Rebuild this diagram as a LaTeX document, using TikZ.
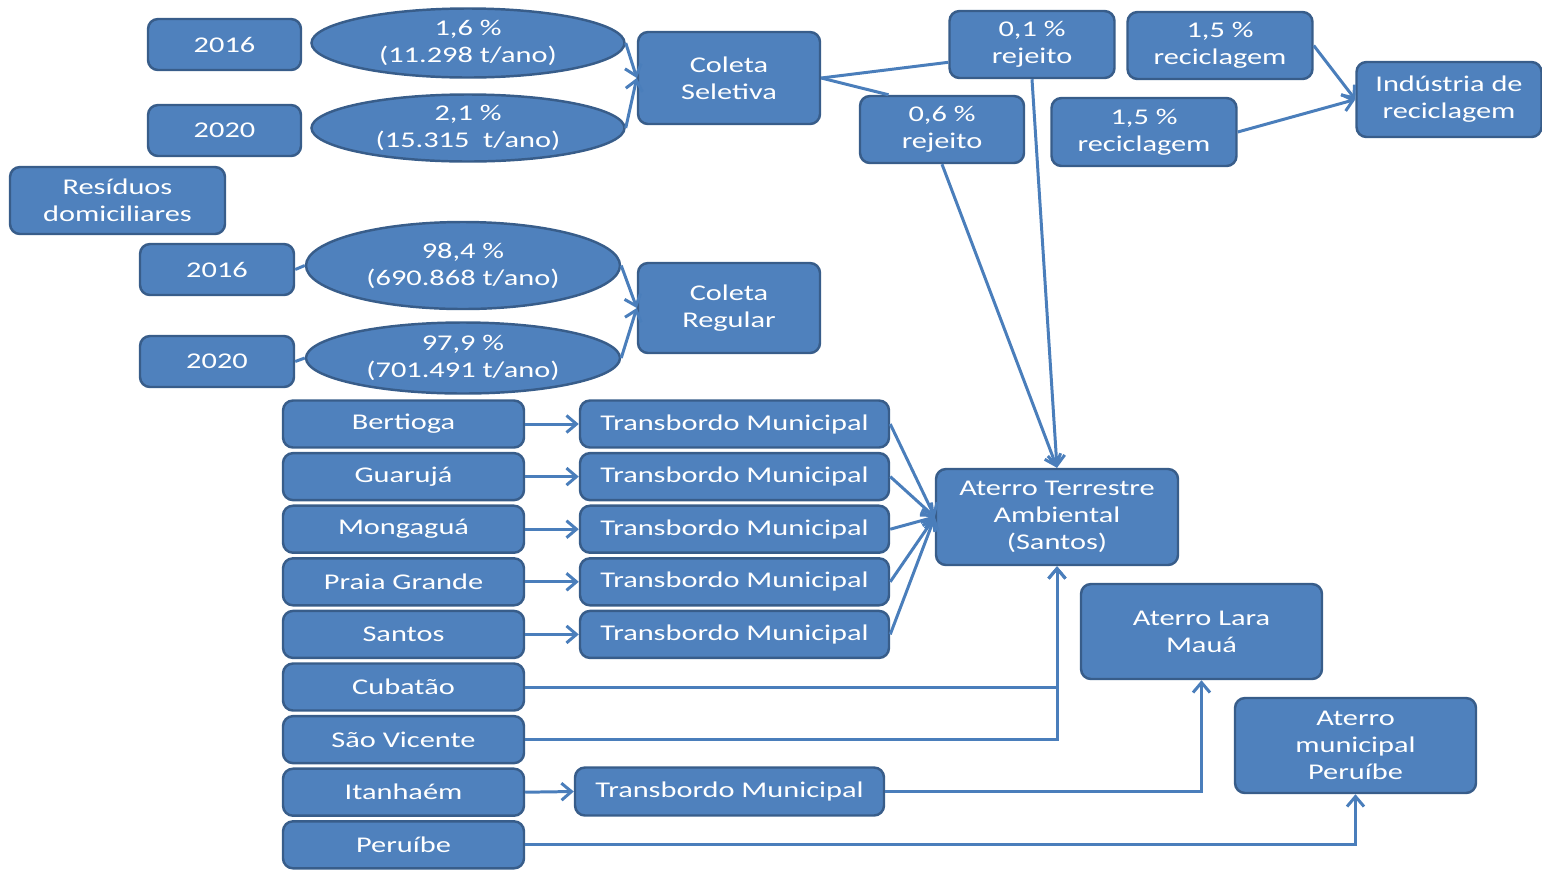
\documentclass[tikz,border=0pt]{standalone}
\usepackage{fontspec}
\setmainfont{Carlito}[FakeStretch=1.35]
\usetikzlibrary{shapes.geometric,arrows.meta}
\definecolor{caixa}{HTML}{4F81BD}
\definecolor{borda}{HTML}{385D8A}
\definecolor{traco}{HTML}{4A7EBB}
\begin{document}
\begin{tikzpicture}[x=0.02cm,y=-0.02cm,
    blk/.style 2 args={draw=borda,line width=1.4pt,fill=caixa,rounded corners=0.2cm,
      text=white,align=center,inner sep=0pt,
      minimum width=#1*0.02cm,minimum height=#2*0.02cm,
      font=\fontsize{12.8}{15.4}\selectfont},
    elp/.style 2 args={blk={#1}{#2},sharp corners,ellipse},
    lig/.style={draw=traco,line width=1.7pt},
    flecha/.style={lig,-{Straight Barb[length=0.2cm,width=0.34cm]}}]
          \useasboundingbox (0,0) rectangle (1542,870);

          \node[blk={153}{51}] (y16s) at (224.5,44.5) {2016};
          \node[blk={153}{51}] (y20s) at (224.5,130.5) {2020};
          \node[elp={313}{69}] (e16s) at (468,43) {1,6 \%\\(11.298 t/ano)};
          \node[elp={313}{67}] (e20s) at (468,128) {2,1 \%\\(15.315 \ t/ano)};
          \node[blk={182}{92}] (colsel) at (729,78) {Coleta\\Seletiva};
          \node[blk={165}{67}] (rej01) at (1032,44.5) {0,1 \%\\rejeito};
          \node[blk={164}{67}] (rej06) at (942,129.5) {0,6 \%\\rejeito};
          \node[blk={185}{67}] (rec15a) at (1220,45.5) {1,5 \%\\reciclagem};
          \node[blk={185}{68}] (rec15b) at (1144,132) {1,5 \%\\reciclagem};
          \node[blk={185}{75}] (ind) at (1449,99.5) {Indústria de\\reciclagem};
          \node[blk={215}{67}] (resid) at (117.5,200.5) {Resíduos\\domiciliares};
          \node[blk={154}{51}] (y16r) at (217,269.5) {2016};
          \node[blk={154}{51}] (y20r) at (217,361.5) {2020};
          \node[elp={314}{87}] (e984) at (463,265.5) {98,4 \%\\(690.868 t/ano)};
          \node[elp={314}{71}] (e979) at (463,358) {97,9 \%\\(701.491 t/ano)};
          \node[blk={182}{90}] (colreg) at (729,308) {Coleta\\Regular};

          \node[blk={241}{47}] (bert) at (403.5,424) {Bertioga};
          \node[blk={241}{47}] (guar) at (403.5,476.6) {Guarujá};
          \node[blk={241}{47}] (mong) at (403.5,529.2) {Mongaguá};
          \node[blk={241}{47}] (prai) at (403.5,581.8) {Praia Grande};
          \node[blk={241}{47}] (sant) at (403.5,634.4) {Santos};
          \node[blk={241}{47}] (cuba) at (403.5,687) {Cubatão};
          \node[blk={241}{47}] (svic) at (403.5,739.6) {São Vicente};
          \node[blk={241}{47}] (itan) at (403.5,792.2) {Itanhaém};
          \node[blk={241}{47}] (peru) at (403.5,844.8) {Peruíbe};
          \node[blk={309}{47}] (tb1) at (734.5,424) {Transbordo Municipal};
          \node[blk={309}{47}] (tb2) at (734.5,476.6) {Transbordo Municipal};
          \node[blk={309}{47}] (tb3) at (734.5,529.2) {Transbordo Municipal};
          \node[blk={309}{47}] (tb4) at (734.5,581.8) {Transbordo Municipal};
          \node[blk={309}{47}] (tb5) at (734.5,634.4) {Transbordo Municipal};
          \node[blk={309}{48}] (tb6) at (729.5,791.5) {Transbordo Municipal};
          \node[blk={242}{96}] (ater) at (1057,517) {Aterro Terrestre\\Ambiental\\(Santos)};
          \node[blk={241}{95}] (lara) at (1201.5,631.5) {Aterro Lara\\Mauá};
          \node[blk={241}{95}] (atpe) at (1355.5,745.5) {Aterro\\municipal\\Peruíbe};

          \draw[flecha] (e16s.east) -- (colsel.west);
          \draw[flecha] (e20s.east) -- (colsel.west);
          \draw[lig] (y16r.east) -- (e984.west);
          \draw[lig] (y20r.east) -- (e979.west);
          \draw[flecha] (e984.east) -- (colreg.west);
          \draw[flecha] (e979.east) -- (colreg.west);
          \draw[lig] (colsel.east) -- (rej01.192);
          \draw[lig] (colsel.east) -- (rej06.147);
          \draw[flecha] (rej01.south) -- (ater.north);
          \draw[flecha] (rej06.south) -- (ater.north);
          \draw[flecha] (rec15a.east) -- (ind.west);
          \draw[flecha] (rec15b.east) -- (ind.west);

          \draw[flecha] (bert.east) -- (tb1.west);
          \draw[flecha] (guar.east) -- (tb2.west);
          \draw[flecha] (mong.east) -- (tb3.west);
          \draw[flecha] (prai.east) -- (tb4.west);
          \draw[flecha] (sant.east) -- (tb5.west);
          \draw[flecha] (itan.east) -- (tb6.west);
          \draw[flecha] (tb1.east) -- (ater.west);
          \draw[flecha] (tb2.east) -- (ater.west);
          \draw[flecha] (tb3.east) -- (ater.west);
          \draw[flecha] (tb4.east) -- (ater.west);
          \draw[flecha] (tb5.east) -- (ater.west);
          \draw[flecha] (cuba.east) -| (ater.south);
          \draw[flecha] (svic.east) -| (ater.south);
          \draw[flecha] (tb6.east) -| (lara.south);
          \draw[flecha] (peru.east) -| (atpe.south);
      \end{tikzpicture}
\end{document}
